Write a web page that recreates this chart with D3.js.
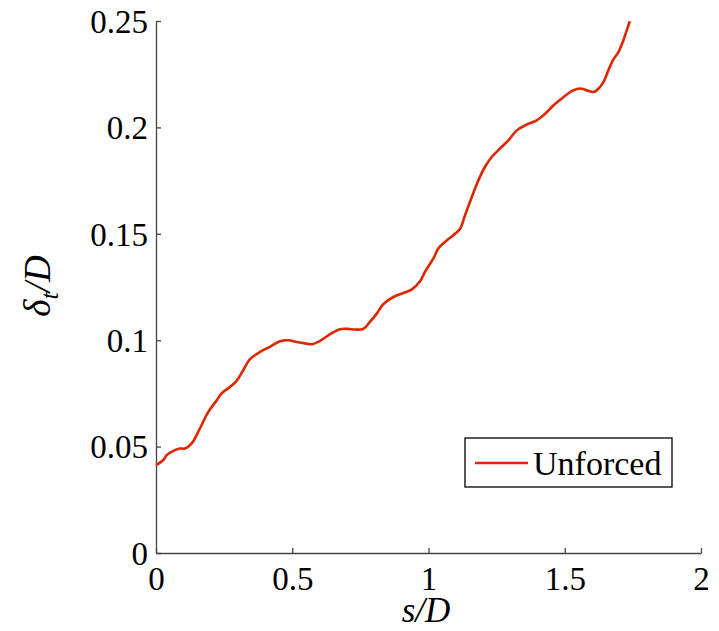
<!DOCTYPE html>
<html>
<head>
<meta charset="utf-8">
<script src="https://cdn.jsdelivr.net/npm/d3@7"></script>
<style>
	body { margin: 0; background: #fff; }
	svg text { font-family: "Liberation Serif", "Times New Roman", serif; fill: #000; }
</style>
</head>
<body>
<svg id="chart"></svg>
<script>
'use strict';

var WIDTH = 719,
	HEIGHT = 631;

var margin = { top: 21, right: 18, bottom: 78, left: 156 };

// s/D
var sValues = [0, 0.027, 0.039, 0.064, 0.088, 0.106, 0.131, 0.161, 0.192, 0.223,
	0.241, 0.272, 0.296, 0.320, 0.345, 0.382, 0.418, 0.455, 0.486, 0.516,
	0.547, 0.571, 0.602, 0.639, 0.675, 0.706, 0.730, 0.761, 0.785, 0.810,
	0.834, 0.871, 0.908, 0.938, 0.969, 0.987, 1.018, 1.036, 1.067, 1.091,
	1.116, 1.134, 1.159, 1.183, 1.207, 1.232, 1.262, 1.293, 1.324, 1.360,
	1.397, 1.428, 1.458, 1.495, 1.531, 1.556, 1.581, 1.605, 1.617, 1.642,
	1.660, 1.678, 1.697, 1.715, 1.727, 1.739];

// delta_t/D, unforced
var unforced = [0.0413, 0.0437, 0.046, 0.048, 0.0491, 0.0491, 0.0515, 0.0585, 0.0663, 0.0718,
	0.0750, 0.0781, 0.0809, 0.0859, 0.0911, 0.0945, 0.0969, 0.0995, 0.1000, 0.0992,
	0.0985, 0.0981, 0.0997, 0.1028, 0.1052, 0.1053, 0.1050, 0.1053, 0.1086, 0.1125,
	0.1169, 0.1203, 0.1222, 0.1238, 0.1277, 0.1321, 0.1384, 0.1431, 0.1469, 0.1493,
	0.1524, 0.1587, 0.1673, 0.1751, 0.1814, 0.1861, 0.1900, 0.1939, 0.1986, 0.2013,
	0.2033, 0.2064, 0.2103, 0.2142, 0.2174, 0.2183, 0.2174, 0.2166, 0.2174, 0.2213,
	0.2268, 0.2318, 0.2354, 0.2408, 0.2455, 0.2499];

var xTicks = [0, 0.5, 1, 1.5, 2];
var yTicks = [0, 0.05, 0.1, 0.15, 0.2, 0.25];
var legendLabels = ['Unforced'];

var lineColor = 'rgb(222, 38, 0)',
	axisColor = '#444';

var svg = d3.select('#chart')
	.attr('width', WIDTH)
	.attr('height', HEIGHT);

var plotW = WIDTH - margin.left - margin.right,
	plotH = HEIGHT - margin.top - margin.bottom;

var x = d3.scaleLinear().domain([0, 2]).range([0, plotW]);
var y = d3.scaleLinear().domain([0, 0.25]).range([plotH, 0]);

var g = svg.append('g')
	.attr('transform', 'translate(' + margin.left + ',' + margin.top + ')');

// axes, ticks pointing inward like matlab
var xAxis = d3.axisBottom(x)
	.tickValues(xTicks)
	.tickSizeInner(-5)
	.tickSizeOuter(0)
	.tickPadding(14)
	.tickFormat(d3.format('~g'));

var yAxis = d3.axisLeft(y)
	.tickValues(yTicks)
	.tickSizeInner(-5)
	.tickSizeOuter(0)
	.tickPadding(8)
	.tickFormat(d3.format('~g'));

var gx = g.append('g')
	.attr('transform', 'translate(0,' + plotH + ')')
	.call(xAxis);

var gy = g.append('g')
	.call(yAxis);

[gx, gy].forEach(function (ax) {
	ax.attr('font-family', null).attr('font-size', null);
	ax.select('.domain').attr('stroke', axisColor).attr('stroke-width', 1.3);
	ax.selectAll('.tick line').attr('stroke', axisColor).attr('stroke-width', 1.3);
	ax.selectAll('.tick text')
		.style('font-family', '"Liberation Serif", "Times New Roman", serif')
		.style('font-size', '33px')
		.attr('fill', '#000');
});
gx.selectAll('.tick text').attr('dy', '0.71em');
gy.selectAll('.tick text').attr('dy', '0.34em');

// data line
var points = sValues.map(function (s, i) {
	return [s, unforced[i]];
});

var line = d3.line()
	.x(function (d) { return x(d[0]); })
	.y(function (d) { return y(d[1]); })
	.curve(d3.curveCatmullRom.alpha(0.5));

g.append('path')
	.datum(points)
	.attr('d', line)
	.attr('fill', 'none')
	.attr('stroke', lineColor)
	.attr('stroke-width', 2.6)
	.attr('stroke-linejoin', 'round');

// axis labels
svg.append('text')
	.attr('x', 426)
	.attr('y', 622)
	.attr('text-anchor', 'middle')
	.style('font-size', '35px')
	.style('font-style', 'italic')
	.text('s/D');

var yLab = svg.append('text')
	.attr('transform', 'translate(50,286) rotate(-90)')
	.attr('text-anchor', 'middle')
	.style('font-size', '37px')
	.style('font-style', 'italic');
yLab.append('tspan').text('δ');
yLab.append('tspan')
	.attr('baseline-shift', '-30%')
	.style('font-size', '26px')
	.text('t');
yLab.append('tspan').text('/D');

// legend
var legend = svg.append('g')
	.attr('transform', 'translate(465,438)');

legend.append('rect')
	.attr('width', 207)
	.attr('height', 49)
	.attr('fill', '#fff')
	.attr('stroke', '#000')
	.attr('stroke-width', 1.3);

legendLabels.forEach(function (lbl, i) {
	legend.append('line')
		.attr('x1', 10).attr('x2', 63)
		.attr('y1', 25 + i * 40).attr('y2', 25 + i * 40)
		.attr('stroke', lineColor)
		.attr('stroke-width', 2.6);
	legend.append('text')
		.attr('x', 68)
		.attr('y', 37 + i * 40)
		.style('font-size', '34px')
		.text(lbl);
});
</script>
</body>
</html>
